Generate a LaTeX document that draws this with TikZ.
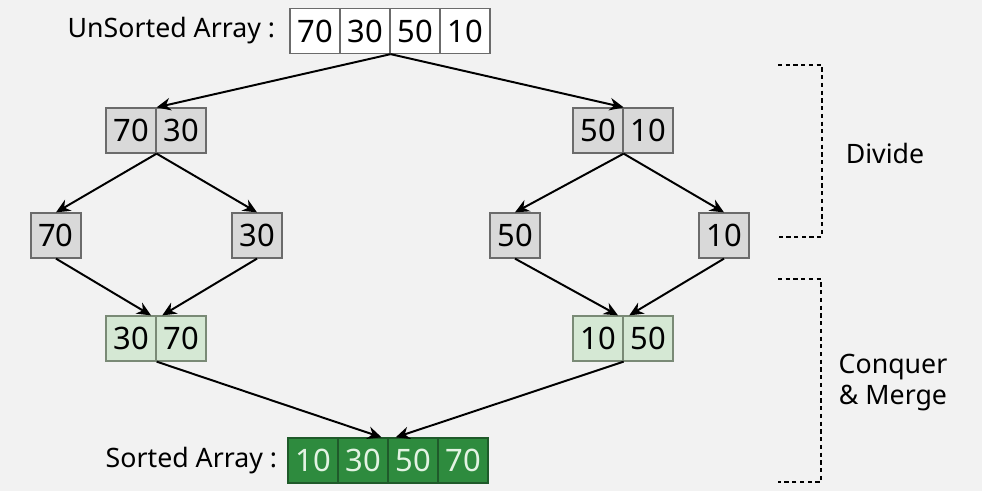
\documentclass[tikz,border=0pt]{standalone}
\usepackage{fontspec}
\setmainfont{Noto Sans}
\usetikzlibrary{arrows.meta}
\definecolor{bgc}{HTML}{F2F2F2}
\definecolor{grayfill}{HTML}{D9D9D9}
\definecolor{grayline}{HTML}{6B6B6B}
\definecolor{lgfill}{HTML}{D5E8D4}
\definecolor{lgline}{HTML}{7A8A76}
\definecolor{dgfill}{HTML}{2E8B3E}
\definecolor{dgline}{HTML}{1F5A2A}
\definecolor{dgtext}{HTML}{E3F3E3}
\begin{document}
\begin{tikzpicture}[x=0.025cm,y=-0.025cm,
    cell/.style={draw,line width=0.9pt,minimum width=1.25cm,minimum height=1.125cm,inner sep=0pt,font=\fontsize{22}{26}\selectfont},
    plain/.style={cell,fill=white,draw=grayline},
    split/.style={cell,fill=grayfill,draw=grayline},
    merged/.style={cell,fill=lgfill,draw=lgline},
    sorted/.style={cell,fill=dgfill,draw=dgline,text=dgtext},
    arr/.style={-{Stealth[length=10pt,width=9pt]},line width=1.4pt},
    label/.style={font=\fontsize{19}{23}\selectfont,anchor=east},
    phase/.style={font=\fontsize{19}{23}\selectfont,align=center},
    bracket/.style={line width=1.4pt,dash pattern=on 3pt off 2.5pt}]
   \fill[bgc] (0,0) rectangle (982,491);
   \useasboundingbox (0,0) rectangle (982,491);
   % unsorted array
   \node[label] (ulab) at (280,31) {UnSorted Array :};
   \node[plain] (u1) at (315,31) {70};
   \node[plain] (u2) at (365,31) {30};
   \node[plain] (u3) at (415,31) {50};
   \node[plain] (u4) at (465,31) {10};
   % divide
   \node[split] (a1) at (131,130.5) {70};
   \node[split] (a2) at (181,130.5) {30};
   \node[split] (b1) at (598,130.5) {50};
   \node[split] (b2) at (648,130.5) {10};
   \node[split] (c1) at (56,235.5) {70};
   \node[split] (c2) at (257,235.5) {30};
   \node[split] (d1) at (515,235.5) {50};
   \node[split] (d2) at (724,235.5) {10};
   % merge
   \node[merged] (m1) at (131,338.5) {30};
   \node[merged] (m2) at (181,338.5) {70};
   \node[merged] (n1) at (598,338.5) {10};
   \node[merged] (n2) at (648,338.5) {50};
   % sorted array
   \node[label] (slab) at (282,460.5) {Sorted Array :};
   \node[sorted] (s1) at (313,460.5) {10};
   \node[sorted] (s2) at (363,460.5) {30};
   \node[sorted] (s3) at (413,460.5) {50};
   \node[sorted] (s4) at (463,460.5) {70};
   % arrows
   \draw[arr] (u2.south east) -- (a1.north east);
   \draw[arr] (u2.south east) -- (b1.north east);
   \draw[arr] (a1.south east) -- (c1.north);
   \draw[arr] (a1.south east) -- (c2.north);
   \draw[arr] (b1.south east) -- (d1.north);
   \draw[arr] (b1.south east) -- (d2.north);
   \draw[arr] (c1.south) -- ([xshift=-4pt]m1.north east);
   \draw[arr] (c2.south) -- ([xshift=4pt]m1.north east);
   \draw[arr] (d1.south) -- ([xshift=-4pt]n1.north east);
   \draw[arr] (d2.south) -- ([xshift=4pt]n1.north east);
   \draw[arr] (m1.south east) -- ([xshift=-5pt]s2.north east);
   \draw[arr] (n1.south east) -- ([xshift=5pt]s2.north east);
   % phases
   \draw[bracket] (778,65) -| (822,237) -- (778,237);
   \draw[bracket] (778,279) -| (821,482) -- (778,482);
   \node[phase] (divide) at (885,153) {Divide};
   \node[phase] (conquer) at (893,383) {Conquer\\[-1pt]\& Merge};
\end{tikzpicture}
\end{document}
